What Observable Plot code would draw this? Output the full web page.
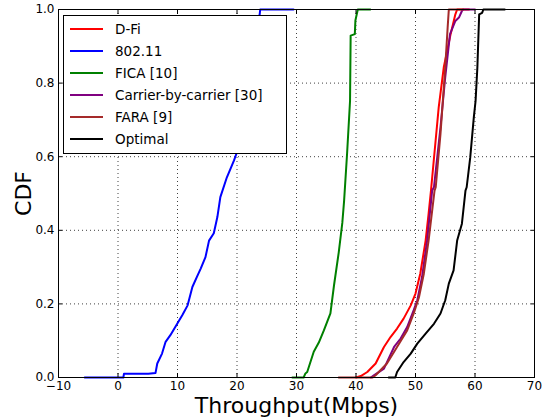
<!DOCTYPE html>
<html><head><meta charset="utf-8">
<script src="https://cdn.jsdelivr.net/npm/d3@7"></script>
<script src="https://cdn.jsdelivr.net/npm/@observablehq/plot@0.6"></script>
<style>
body{margin:0;background:#fff;font-family:"DejaVu Sans",sans-serif;}
#wrap{position:relative;width:560px;height:419px;}
#legend{position:absolute;left:63px;top:15px;width:224px;height:139px;background:#fff;border:1px solid #000;box-sizing:border-box;padding-top:2px;}
.row{height:22px;display:flex;align-items:center;font-size:13.5px;color:#000;}
.row svg{margin-left:6px;margin-right:12px;}
</style>
</head><body>
<div id="wrap"></div>
<script>
const xTicks = [-10, 0, 10, 20, 30, 40, 50, 60, 70];
const yTicks = [0, 0.2, 0.4, 0.6, 0.8, 1.0];
const seriesNames = ["D-Fi", "802.11", "FICA [10]", "Carrier-by-carrier [30]", "FARA [9]", "Optimal"];
const seriesColors = ["#ff0000", "#0000ff", "#008000", "#800080", "#a52a2a", "#000000"];

const dfiX = [40.0, 40.8, 41.9, 43.3, 44.7, 45.8, 46.9, 48.0, 49.2, 50.0, 50.8, 51.7, 52.2, 52.6, 53.9, 54.75, 55.9, 56.7, 57.0, 59.0];
const dfiY = [0, 0.004, 0.015, 0.038, 0.083, 0.11, 0.133, 0.16, 0.196, 0.228, 0.282, 0.372, 0.445, 0.508, 0.734, 0.843, 0.933, 0.987, 1, 1];

const wifiX = [-5.6, 0.9, 1.0, 5.1, 6.3, 6.6, 7.4, 8.0, 8.8, 9.95, 10.8, 11.7, 12.5, 13.3, 13.9, 14.7, 15.3, 16.1, 16.7, 17.2, 18.3, 19.5, 19.9, 20.8, 21.8, 22.8, 23.8, 23.9, 29.5];
const wifiY = [0, 0, 0.01, 0.01, 0.012, 0.038, 0.065, 0.097, 0.115, 0.146, 0.169, 0.196, 0.246, 0.275, 0.296, 0.327, 0.372, 0.392, 0.436, 0.49, 0.544, 0.59, 0.608, 0.7, 0.8, 0.9, 0.985, 1, 1];

const ficaX = [29.3, 31.2, 31.5, 31.8, 32.9, 33.75, 34.6, 35.7, 36.3, 37.1, 37.7, 38.0, 38.5, 39.0, 39.1, 39.8, 39.9, 40.3, 42.4];
const ficaY = [0, 0, 0.011, 0.015, 0.07, 0.095, 0.128, 0.174, 0.25, 0.34, 0.42, 0.48, 0.608, 0.752, 0.929, 0.933, 0.97, 1, 1];

const cbcX = [42.5, 43.0, 44.7, 46.4, 47.5, 48.6, 49.7, 50.3, 51.1, 51.95, 52.8, 53.1, 54.2, 55.0, 55.8, 56.7, 57.3, 57.8, 58.0, 60.0];
const cbcY = [0, 0.006, 0.024, 0.083, 0.106, 0.137, 0.183, 0.21, 0.273, 0.372, 0.508, 0.517, 0.68, 0.816, 0.933, 0.969, 0.978, 0.996, 1, 1];

const faraX = [37.1, 42.8, 43.3, 45.2, 46.9, 48.6, 49.7, 50.6, 51.4, 52.2, 53.2, 53.4, 54.2, 55.0, 55.4, 55.6, 58.0];
const faraY = [0, 0, 0.006, 0.038, 0.083, 0.128, 0.174, 0.219, 0.282, 0.372, 0.508, 0.517, 0.662, 0.843, 0.95, 1, 1];

const optX = [45.5, 46.6, 46.9, 48.0, 49.2, 50.3, 51.7, 53.1, 54.2, 55.0, 55.6, 56.4, 57.0, 57.8, 58.4, 58.6, 59.2, 59.8, 60.1, 60.4, 60.7, 61.2, 61.4, 65.0];
const optY = [0, 0, 0.015, 0.042, 0.065, 0.092, 0.119, 0.146, 0.174, 0.21, 0.255, 0.291, 0.372, 0.418, 0.508, 0.517, 0.598, 0.707, 0.752, 0.843, 0.987, 0.991, 1, 1];

const allX = [dfiX, wifiX, ficaX, cbcX, faraX, optX];
const allY = [dfiY, wifiY, ficaY, cbcY, faraY, optY];
const tables = allX.map((xs, i) => xs.map((x, j) => ({x, y: allY[i][j]})));

const chart = Plot.plot({
  width: 560, height: 419,
  marginLeft: 58, marginRight: 26, marginTop: 9, marginBottom: 42,
  style: {fontFamily: "DejaVu Sans, sans-serif", fontSize: "12px", background: "#fff", color: "#000"},
  x: {domain: [-10, 70]},
  y: {domain: [0, 1]},
  marks: [
    Plot.gridX(xTicks, {stroke: "#000", strokeOpacity: 0.75, strokeDasharray: "1,3"}),
    Plot.gridY(yTicks, {stroke: "#000", strokeOpacity: 0.75, strokeDasharray: "1,3"}),
    ...tables.map((t, i) => Plot.line(t, {x: "x", y: "y", stroke: seriesColors[i], strokeWidth: 2, clip: false})),
    Plot.frame({stroke: "#000", strokeWidth: 1}),
    Plot.axisX(xTicks, {anchor: "bottom", tickSize: -4, tickPadding: 8, label: null, fontSize: 12}),
    Plot.axisX(xTicks, {anchor: "top", tickSize: -4, tickFormat: () => "", label: null}),
    Plot.axisY(yTicks, {anchor: "left", tickSize: -4, tickPadding: 8, tickFormat: d3.format(".1f"), label: null, fontSize: 12}),
    Plot.axisY(yTicks, {anchor: "right", tickSize: -4, tickFormat: () => "", label: null}),
    Plot.text(["Throughput(Mbps)"], {frameAnchor: "bottom", lineAnchor: "middle", dy: 28, fontSize: 22}),
    Plot.text(["CDF"], {frameAnchor: "left", lineAnchor: "middle", textAnchor: "middle", dx: -35, rotate: -90, fontSize: 22})
  ]
});
const wrap = document.getElementById("wrap");
wrap.appendChild(chart);

const legend = document.createElement("div");
legend.id = "legend";
seriesNames.forEach((name, i) => {
  const row = document.createElement("div");
  row.className = "row";
  row.innerHTML = `<svg width="33" height="4"><line x1="0" y1="2" x2="33" y2="2" stroke="${seriesColors[i]}" stroke-width="2"/></svg><span>${name}</span>`;
  legend.appendChild(row);
});
wrap.appendChild(legend);
</script>
</body></html>
